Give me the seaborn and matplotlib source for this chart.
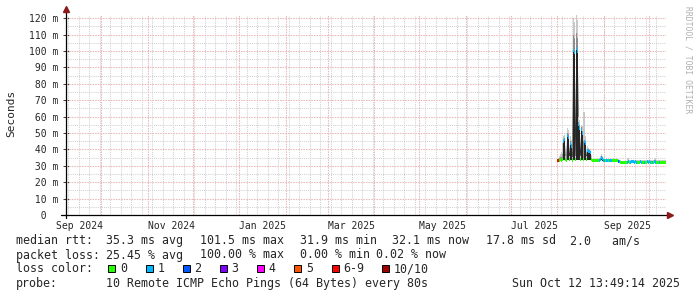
import matplotlib
matplotlib.use("Agg")
import matplotlib.pyplot as plt
from matplotlib.patches import Rectangle
import seaborn as sns
import numpy as np
import pandas as pd

# ------------------------------------------------------------------ data
start_time = "2025-08-01 05:49:14"   # first consolidated sample (16h steps)
step_hours = 16
graph_end = "2025-10-12 13:49:14"
graph_days = 400

median_ms = [
    33.0, 33.0, 33.5, 34.0, 33.5, 34.0, 45.0, 46.0, 34.0, 33.5,
    48.5, 47.0, 34.0, 43.7, 42.0, 33.5, 100.5, 99.0, 34.0, 101.5,
    100.0, 55.0, 53.0, 34.0, 52.0, 50.0, 34.0, 44.6, 43.5, 34.0,
    39.6, 39.0, 38.5, 38.0, 34.0,
    33.0, 33.0, 33.2, 33.0, 33.0, 33.2, 33.0, 33.4, 34.0, 35.0,
    34.5, 33.5, 33.2, 33.0, 33.2, 33.0, 33.2, 33.0, 33.2, 33.0,
    33.0, 33.2, 33.0, 33.0, 33.2, 33.0, 32.8, 32.5, 32.0, 31.8,
    31.8, 32.0, 31.8, 31.9, 31.8, 32.0, 32.5, 32.2, 32.3, 32.5,
    32.5, 32.5, 32.3, 32.5, 32.3, 32.0, 32.0, 32.2, 32.5, 32.3,
    32.0, 32.2, 32.0, 32.3, 32.0, 32.5, 32.2, 32.5, 32.3, 32.2,
    32.0, 32.2, 32.5, 32.3, 32.0, 32.2, 32.0, 32.0, 32.2, 32.0,
    32.0, 32.2, 32.0, 32.1,
]
loss_count = [
    7, 7, 0, 0, 0, 0, 1, 1, 0, 0,
    1, 1, 0, 1, 1, 0, 1, 1, 0, 1,
    1, 1, 1, 0, 1, 1, 0, 1, 1, 0,
    1, 1, 1, 1, 0,
    0, 0, 0, 0, 0, 0, 0, 1, 1, 1,
    1, 1, 1, 0, 1, 1, 0, 1, 1, 1,
    0, 0, 0, 0, 0, 0, 2, 1, 0, 0,
    0, 0, 0, 0, 0, 1, 1, 0, 1, 1,
    1, 1, 1, 1, 1, 0, 0, 0, 1, 1,
    0, 0, 1, 0, 0, 1, 1, 1, 1, 0,
    1, 0, 1, 1, 0, 0, 0, 1, 0, 0,
    0, 0, 0, 0,
]
# smoke: lowest ping, top of the dark (central) band, top of the mid band, highest ping
ping_min = [
    32.5, 32.5, 32.8, 33.0, 32.8, 33.0, 33.5, 33.5, 33.0, 32.8,
    33.5, 33.5, 33.0, 33.5, 33.5, 32.8, 33.5, 33.5, 33.0, 33.5,
    33.5, 33.5, 33.5, 33.0, 33.5, 33.5, 33.0, 33.5, 33.5, 33.0,
    33.5, 33.5, 33.5, 33.5, 33.0,
    32.4, 32.4, 32.5, 32.4, 32.4, 32.5, 32.4, 32.6, 33.0, 33.5,
    33.2, 32.8, 32.5, 32.4, 32.5, 32.4, 32.5, 32.4, 32.5, 32.4,
    32.4, 32.5, 32.4, 32.4, 32.5, 32.4, 32.2, 32.0, 31.5, 31.3,
    31.3, 31.4, 31.3, 31.4, 31.3, 31.4, 31.8, 31.6, 31.7, 31.8,
    31.8, 31.8, 31.7, 31.8, 31.7, 31.4, 31.4, 31.6, 31.8, 31.7,
    31.4, 31.6, 31.4, 31.7, 31.4, 31.8, 31.6, 31.8, 31.7, 31.6,
    31.4, 31.6, 31.8, 31.7, 31.4, 31.6, 31.4, 31.4, 31.6, 31.4,
    31.4, 31.6, 31.4, 31.5,
]
ping_core = [
    33.5, 33.5, 34.0, 34.5, 34.0, 34.5, 45.0, 46.0, 34.5, 34.0,
    48.5, 47.0, 34.5, 43.7, 42.0, 34.0, 100.5, 99.0, 34.5, 101.5,
    100.0, 55.0, 53.0, 34.5, 52.0, 50.0, 34.5, 44.6, 43.5, 34.5,
    39.6, 39.0, 38.5, 38.0, 34.5,
    33.3, 33.3, 33.5, 33.3, 33.3, 33.5, 33.3, 33.7, 34.3, 35.3,
    34.8, 33.8, 33.5, 33.3, 33.5, 33.3, 33.5, 33.3, 33.5, 33.3,
    33.3, 33.5, 33.3, 33.3, 33.5, 33.3, 33.1, 32.8, 32.3, 32.1,
    32.1, 32.3, 32.1, 32.2, 32.1, 32.3, 32.8, 32.5, 32.6, 32.8,
    32.8, 32.8, 32.6, 32.8, 32.6, 32.3, 32.3, 32.5, 32.8, 32.6,
    32.3, 32.5, 32.3, 32.6, 32.3, 32.8, 32.5, 32.8, 32.6, 32.5,
    32.3, 32.5, 32.8, 32.6, 32.3, 32.5, 32.3, 32.3, 32.5, 32.3,
    32.3, 32.5, 32.3, 32.4,
]
ping_mid = [
    33.8, 34.0, 35.0, 35.5, 35.5, 37.0, 46.5, 47.0, 35.0, 34.5,
    50.0, 49.5, 35.0, 45.0, 43.5, 34.5, 110.0, 108.0, 35.0, 111.0,
    108.0, 57.0, 55.0, 35.0, 53.5, 51.5, 45.0, 46.0, 45.0, 35.0,
    40.5, 40.0, 39.2, 38.8, 35.0,
    33.5, 33.5, 33.7, 33.5, 33.5, 33.7, 33.5, 33.9, 34.5, 35.5,
    35.0, 34.0, 33.7, 33.5, 33.7, 33.5, 33.7, 33.5, 33.7, 33.5,
    33.5, 33.7, 33.5, 33.5, 33.7, 33.5, 33.3, 33.0, 32.5, 32.3,
    32.3, 32.5, 32.3, 32.4, 32.3, 32.5, 33.5, 32.7, 32.8, 33.0,
    33.0, 33.0, 32.8, 33.0, 32.8, 32.5, 32.5, 32.7, 33.0, 32.8,
    32.5, 32.7, 32.5, 32.8, 32.5, 33.0, 32.7, 33.0, 32.8, 32.7,
    32.5, 32.7, 33.0, 33.3, 32.5, 32.7, 32.5, 32.5, 32.7, 32.5,
    32.5, 32.7, 32.5, 32.6,
]
ping_max = [
    34.0, 34.5, 36.0, 37.0, 38.5, 44.0, 48.0, 49.0, 36.0, 35.0,
    53.0, 52.0, 36.0, 48.0, 46.0, 35.5, 120.0, 118.0, 36.0, 122.0,
    119.0, 60.0, 58.0, 36.0, 55.0, 54.0, 63.0, 63.0, 48.0, 36.0,
    42.0, 41.0, 40.0, 39.5, 36.0,
    34.3, 34.2, 34.5, 34.3, 34.2, 34.5, 34.4, 35.0, 36.0, 37.0,
    36.0, 35.0, 34.5, 34.3, 34.5, 34.2, 34.5, 34.3, 34.5, 34.3,
    34.2, 34.5, 34.3, 34.2, 34.5, 34.3, 34.0, 33.8, 33.3, 33.0,
    33.0, 33.2, 33.0, 33.3, 33.2, 34.5, 35.0, 33.6, 33.6, 33.8,
    33.8, 33.7, 33.6, 33.8, 33.5, 33.3, 33.3, 33.5, 33.8, 33.5,
    33.3, 33.5, 33.3, 33.6, 33.3, 33.8, 33.5, 33.8, 33.6, 33.5,
    33.3, 33.5, 34.0, 34.5, 33.3, 33.5, 33.3, 33.3, 33.5, 33.3,
    33.3, 33.4, 33.3, 33.3,
]

y_ticks = [0, 10, 20, 30, 40, 50, 60, 70, 80, 90, 100, 110, 120]
y_tick_labels = ["  0  ", " 10 m", " 20 m", " 30 m", " 40 m", " 50 m", " 60 m",
                 " 70 m", " 80 m", " 90 m", "100 m", "110 m", "120 m"]
y_max = 122.0
x_label_months = ["2024-09-01", "2024-11-01", "2025-01-01", "2025-03-01",
                  "2025-05-01", "2025-07-01", "2025-09-01"]
x_label_texts = ["Sep 2024", "Nov 2024", "Jan 2025", "Mar 2025",
                 "May 2025", "Jul 2025", "Sep 2025"]

loss_labels = ["0", "1", "2", "3", "4", "5", "6-9", "10/10"]
loss_colors = ["#26ff00", "#00b8ff", "#0059ff", "#7e00ff",
               "#ff00ff", "#ff5500", "#ff0000", "#a10000"]

legend_rows = [
    [("median rtt:", 16), ("35.3 ms avg", 107), ("101.5 ms max", 200),
     ("31.9 ms min", 300), ("32.1 ms now", 393), ("17.8 ms sd", 486),
     ("2.0   am/s", 571)],
    [("packet loss:", 16), ("25.45 % avg", 107), ("100.00 % max", 200),
     ("0.00 % min", 300), ("0.02 % now", 377)],
    [("loss color:", 16)],
    [("probe:", 16), ("10 Remote ICMP Echo Pings (64 Bytes) every 80s", 107),
     ("Sun Oct 12 13:49:14 2025", 513)],
]
swatch_x = [108, 145.5, 182.5, 219.5, 256.5, 294, 331.5, 381.5]

# ------------------------------------------------------------------ style
W, H = 697, 297
sns.set_theme(style="white")
plt.rcParams["font.family"] = ["DejaVu Sans Mono", "DejaVu Sans"]
plt.rcParams["axes.facecolor"] = "white"
plt.rcParams["figure.facecolor"] = "white"

GRID = "#d2d2d2"
MGRID = "#eab9b9"
ARROW = "#8b1a1a"


def loss_color(n):
    if n >= 10:
        return loss_colors[7]
    if n >= 6:
        return loss_colors[6]
    return loss_colors[n]


fig = plt.figure(figsize=(W / 100, H / 100), dpi=100)
ax = fig.add_axes([66 / W, (H - 215) / H, 600 / W, 200 / H])

end_ts = pd.Timestamp(graph_end)
start_ts = end_ts - pd.Timedelta(days=graph_days)
times = pd.date_range(start_time, periods=len(median_ms), freq=f"{step_hours}h")
bw = step_hours / 24.0

med = np.array(median_ms)
pmin = np.array(ping_min)
pcore = np.array(ping_core)
pmid = np.array(ping_mid)
pmax = np.array(ping_max)

# grid
for d in pd.date_range(start_ts.normalize(), end_ts, freq="W-MON"):
    ax.axvline(d, color=GRID, lw=0.75, ls=(0, (1, 1)), zorder=0.5)
for d in pd.date_range(start_ts.normalize(), end_ts, freq="MS"):
    ax.axvline(d, color=MGRID, lw=0.75, ls=(0, (1.5, 1)), zorder=0.6)
for v in np.arange(5, y_max, 10):
    ax.axhline(v, color=GRID, lw=0.75, ls=(0, (1, 1)), zorder=0.5)
for v in y_ticks[1:]:
    ax.axhline(v, color=MGRID, lw=0.75, ls=(0, (1.5, 1)), zorder=0.6)

# median line (dark, thin, behind the smoke)
df = pd.DataFrame({"time": times, "median": med})
sns.lineplot(data=df, x="time", y="median", ax=ax, color="#303030",
             linewidth=0.4, estimator=None, zorder=1.9)

# smoke (light outer, mid, dark centre)
bar_kw = dict(width=bw, linewidth=0, antialiased=False)
ax.bar(times, pmax - pmin, bottom=pmin, color="#c8c8c8", zorder=2, **bar_kw)
ax.bar(times, pmid - pmin, bottom=pmin, color="#8e8e8e", zorder=2.1, **bar_kw)
ax.bar(times, pcore - pmin, bottom=pmin, color="#262626", zorder=2.2, **bar_kw)

# loss-coloured median marks
ax.bar(times, 1.8, bottom=med - 0.9, color=[loss_color(n) for n in loss_count],
       zorder=4, **bar_kw)

ax.set_xlim(start_ts, end_ts)
ax.set_ylim(0, y_max)
ax.set_xlabel("")
ax.set_ylabel("")
for s in ax.spines.values():
    s.set_visible(False)

ax.set_yticks(y_ticks)
ax.set_yticklabels(y_tick_labels, fontsize=7)
ax.tick_params(axis="y", length=4, width=0.75, direction="inout",
               color="#404040", pad=3.2, left=True)
label_pos = [pd.Timestamp(m) + pd.Timedelta(days=15.8) for m in x_label_months]
ax.set_xticks(label_pos)
ax.set_xticklabels(x_label_texts, fontsize=7)
ax.tick_params(axis="x", length=0, pad=4.6, bottom=True)
ax.grid(False)

# axes lines with arrows
ax.plot([-5 / 600, 603 / 600], [0, 0], transform=ax.transAxes, color="black",
        lw=0.9, clip_on=False, zorder=5)
ax.plot([0, 0], [-3 / 200, 203 / 200], transform=ax.transAxes, color="black",
        lw=0.9, clip_on=False, zorder=5)
ax.plot([604 / 600], [0], transform=ax.transAxes, marker=">", ms=5,
        color=ARROW, clip_on=False, zorder=6, mec=ARROW)
ax.plot([0], [205.5 / 200], transform=ax.transAxes, marker="^", ms=5,
        color=ARROW, clip_on=False, zorder=6, mec=ARROW)

# y label
fig.text(11 / W, 1 - 113.5 / H, "Seconds", rotation=90, ha="center",
         va="center", fontsize=8)

# watermark
fig.text(688 / W, 1 - 60 / H, "RRDTOOL / TOBI OETIKER", rotation=270,
         ha="center", va="center", fontsize=5.8, color="#b0b0b0")

# legend
baselines = [244.3, 258.5, 272.5, 286.7]
for row, yb in zip(legend_rows, baselines):
    for txt, xp in row:
        fig.text((xp - 0.5) / W, 1 - yb / H, txt, ha="left", va="baseline",
                 fontsize=8.4)
for lab, col, xs in zip(loss_labels, loss_colors, swatch_x):
    fig.patches.append(Rectangle((xs / W, 1 - 272 / H), 7 / W, 7 / H,
                                 transform=fig.transFigure, facecolor=col,
                                 edgecolor="black", linewidth=0.7))
    fig.text((xs + 12) / W, 1 - baselines[2] / H, lab, ha="left",
             va="baseline", fontsize=8.4)

fig.savefig("out.png", dpi=100)
